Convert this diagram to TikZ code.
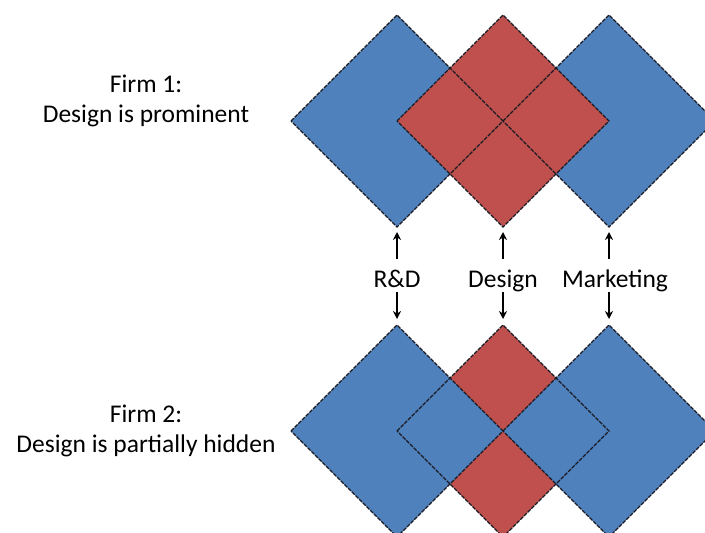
\documentclass[tikz,border=0pt]{standalone}
\usepackage{fontspec}
\setmainfont{Carlito}
\usetikzlibrary{arrows.meta}
\definecolor{offblue}{HTML}{4F81BD}
\definecolor{offred}{HTML}{C0504D}
\definecolor{edge}{HTML}{1A1A24}
\begin{document}
\begin{tikzpicture}[x=1pt,y=-1pt,
  lbl/.style={inner sep=0pt,anchor=base,font=\fontsize{25.5}{30}\selectfont},
  outl/.style={draw=edge,line width=1.3pt,dash pattern=on 4pt off 1.2pt},
  arr/.style={line width=2.2pt,-{Stealth[length=8pt,width=8pt]}}]
\useasboundingbox (0,0) rectangle (705,533);
\clip (0,0) rectangle (705,533);
\def\hd{106}
% ---- Firm 1 (top) ----
\foreach \cx/\col in {397/offblue,609/offblue,503/offred}{
  \fill[\col] (\cx-\hd,121) -- (\cx,121-\hd) -- (\cx+\hd,121) -- (\cx,121+\hd) -- cycle;
}
\foreach \cx in {503,397,609}{
  \draw[outl] (\cx-\hd,121) -- (\cx,121-\hd) -- (\cx+\hd,121) -- (\cx,121+\hd) -- cycle;
}
% ---- Firm 2 (bottom) ----
\foreach \cx/\col in {503/offred,397/offblue,609/offblue}{
  \fill[\col] (\cx-\hd,431) -- (\cx,431-\hd) -- (\cx+\hd,431) -- (\cx,431+\hd) -- cycle;
}
\foreach \cx in {397,609,503}{
  \draw[outl] (\cx-\hd,431) -- (\cx,431-\hd) -- (\cx+\hd,431) -- (\cx,431+\hd) -- cycle;
}
% ---- labels ----
\node[lbl] (f1a) at (146,92) {Firm 1:};
\node[lbl] (f1b) at (146,122) {Design is prominent};
\node[lbl] (f2a) at (146,422) {Firm 2:};
\node[lbl] (f2b) at (146,452) {Design is partially hidden};
\node[lbl] (rd) at (397,287) {R\&D};
\node[lbl] (ds) at (503,287) {Design};
\node[lbl] (mk) at (615,287) {Marketing};
% ---- arrows ----
\foreach \n/\x in {rd/397,ds/503,mk/609}{
  \coordinate (\n ut) at (\x,259);
  \coordinate (\n uh) at (\x,232);
  \coordinate (\n dt) at (\x,292);
  \coordinate (\n dh) at (\x,319);
  \draw[arr] (\n ut) -- (\n uh);
  \draw[arr] (\n dt) -- (\n dh);
}
\end{tikzpicture}
\end{document}
